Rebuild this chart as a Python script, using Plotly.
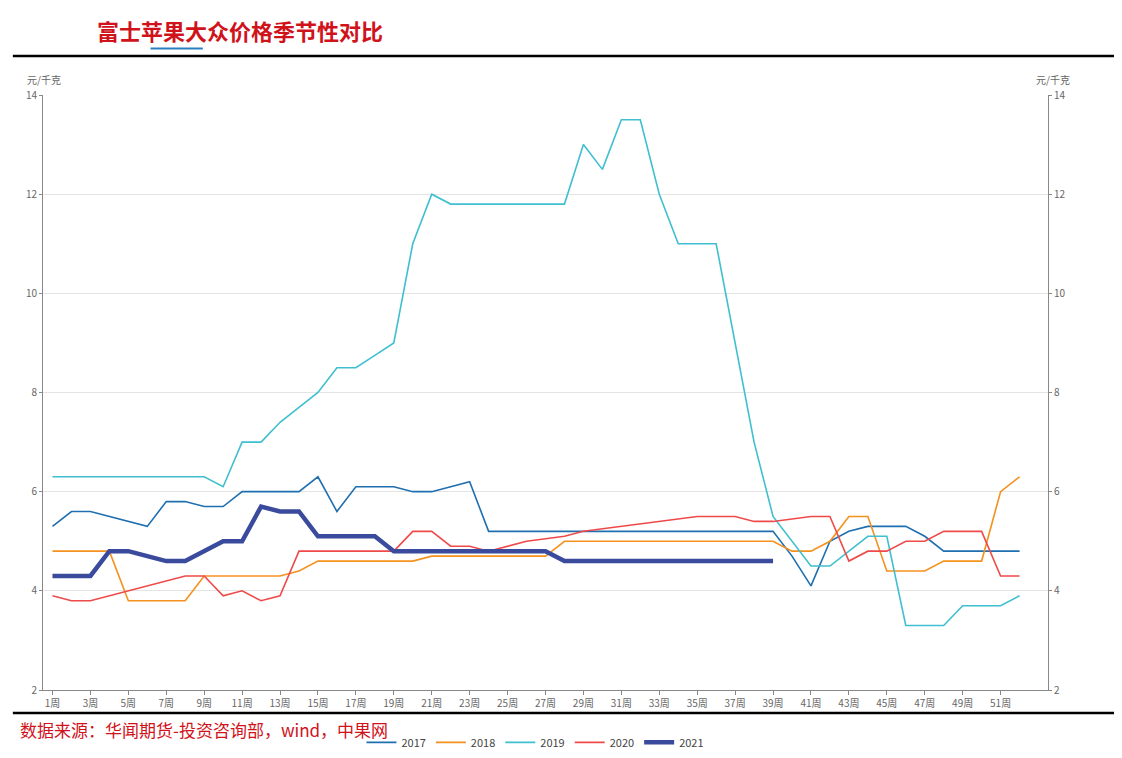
import plotly.graph_objects as go

weeks = list(range(1, 53))
tick_vals = list(range(1, 52, 2))
tick_text = [f"{w}周" for w in tick_vals]

s2017 = [5.3,5.6,5.6,5.5,5.4,5.3,5.8,5.8,5.7,5.7,6.0,6.0,6.0,6.0,6.3,5.6,6.1,6.1,6.1,6.0,6.0,6.1,6.2,5.2,
         5.2,5.2,5.2,5.2,5.2,5.2,5.2,5.2,5.2,5.2,5.2,5.2,5.2,5.2,5.2,4.7,4.1,5.0,5.2,5.3,5.3,5.3,5.1,4.8,4.8,4.8,4.8,4.8]
s2018 = [4.8,4.8,4.8,4.8,3.8,3.8,3.8,3.8,4.3,4.3,4.3,4.3,4.3,4.4,4.6,4.6,4.6,4.6,4.6,4.6,4.7,4.7,4.7,4.7,4.7,4.7,4.7,
         5.0,5.0,5.0,5.0,5.0,5.0,5.0,5.0,5.0,5.0,5.0,5.0,4.8,4.8,5.0,5.5,5.5,4.4,4.4,4.4,4.6,4.6,4.6,6.0,6.3]
s2019 = [6.3,6.3,6.3,6.3,6.3,6.3,6.3,6.3,6.3,6.1,7.0,7.0,7.4,7.7,8.0,8.5,8.5,8.75,9.0,11.0,12.0,11.8,11.8,11.8,11.8,
         11.8,11.8,11.8,13.0,12.5,13.5,13.5,12.0,11.0,11.0,11.0,9.0,7.0,5.5,5.0,4.5,4.5,4.8,5.1,5.1,3.3,3.3,3.3,3.7,3.7,3.7,3.9]
s2020 = [3.9,3.8,3.8,3.9,4.0,4.1,4.2,4.3,4.3,3.9,4.0,3.8,3.9,4.8,4.8,4.8,4.8,4.8,4.8,5.2,5.2,4.9,4.9,4.8,4.9,5.0,
         5.05,5.1,5.2,5.25,5.3,5.35,5.4,5.45,5.5,5.5,5.5,5.4,5.4,5.45,5.5,5.5,4.6,4.8,4.8,5.0,5.0,5.2,5.2,5.2,4.3,4.3]
s2021 = [4.3,4.3,4.3,4.8,4.8,4.7,4.6,4.6,4.8,5.0,5.0,5.7,5.6,5.6,5.1,5.1,5.1,5.1,4.8,4.8,4.8,4.8,4.8,4.8,4.8,4.8,4.8,
         4.6,4.6,4.6,4.6,4.6,4.6,4.6,4.6,4.6,4.6,4.6,4.6]

series = [("2017", s2017, "#1f6fb0", 1.6), ("2018", s2018, "#f5911e", 1.6),
          ("2019", s2019, "#3fbfd0", 1.6), ("2020", s2020, "#ef4a4a", 1.6),
          ("2021", s2021, "#3a4a9c", 4.5)]

fig = go.Figure()
for name, vals, color, w in series:
    fig.add_trace(go.Scatter(x=weeks[:len(vals)], y=vals, name=name, mode="lines",
                             line=dict(color=color, width=w)))
fig.add_trace(go.Scatter(x=[1], y=[None], yaxis="y2", showlegend=False, hoverinfo="skip"))

axfont = dict(size=10, color="#666")
fig.update_layout(
    width=1122, height=758, paper_bgcolor="white", plot_bgcolor="white",
    margin=dict(l=35, r=82, t=87, b=76, autoexpand=False),
    font=dict(family="Noto Sans CJK SC"),
    xaxis=dict(range=[0.5, 53.5], tickvals=tick_vals, ticktext=tick_text, tickfont=axfont,
               showgrid=False, showline=True, linecolor="#888", ticks="outside", ticklen=4, tickcolor="#888"),
    yaxis=dict(range=[2, 14], dtick=2, tickfont=axfont, gridcolor="#e4e4e4",
               showline=True, linecolor="#888", ticks="outside", ticklen=3, tickcolor="#888"),
    yaxis2=dict(range=[2, 14], dtick=2, tickfont=axfont, overlaying="y", side="right",
                showgrid=False, showline=True, linecolor="#888", ticks="outside", ticklen=3, tickcolor="#888"),
    legend=dict(orientation="h", x=0.49, xanchor="center", y=-0.088, yanchor="middle",
                font=dict(size=11, color="#444")),
    shapes=[
        dict(type="line", xref="paper", yref="paper", x0=-0.03, x1=1.08, y0=1.0655, y1=1.0655,
             line=dict(color="black", width=2.5)),
        dict(type="line", xref="paper", yref="paper", x0=-0.03, x1=1.08, y0=-0.0387, y1=-0.0387,
             line=dict(color="black", width=2.5)),
        dict(type="line", xref="paper", yref="paper", x0=0.107, x1=0.159, y0=1.078, y1=1.078,
             line=dict(color="#2a7fc0", width=2)),
    ],
    annotations=[
        dict(text="<b>富士苹果大众价格季节性对比</b>", xref="paper", yref="paper", x=0.052, y=1.11,
             xanchor="left", yanchor="middle", showarrow=False, font=dict(size=22, color="#d0121b")),
        dict(text="元/千克", xref="paper", yref="paper", x=-0.018, y=1.042, xanchor="left",
             showarrow=False, font=dict(size=10, color="#666")),
        dict(text="元/千克", xref="paper", yref="paper", x=1.005, y=1.042, xanchor="center",
             showarrow=False, font=dict(size=10, color="#666")),
        dict(text="数据来源：华闻期货-投资咨询部，wind，中果网", xref="paper", yref="paper", x=-0.025, y=-0.067,
             xanchor="left", yanchor="middle", showarrow=False, font=dict(size=17, color="#d0121b")),
    ],
)
fig.write_html("out.html")
